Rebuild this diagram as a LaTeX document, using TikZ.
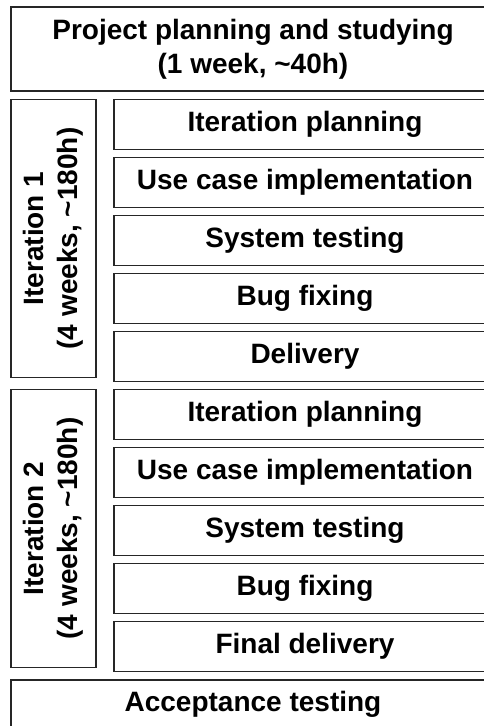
\documentclass[tikz,border=0pt]{standalone}
\usepackage{fontspec}
\setmainfont{Liberation Sans}

\tikzset{
	box/.style={draw=black!85, line width=1.2pt, inner sep=0pt, align=center,
		font=\bfseries\fontsize{28}{34}\selectfont},
	stage/.style={box, minimum width=484pt, minimum height=84pt},
	task/.style={box, minimum width=382pt, minimum height=50pt},
	iter/.style={box, rotate=90, minimum width=278pt, minimum height=85pt},
}

\begin{document}
\begin{tikzpicture}[x=1pt, y=-1pt]
			%%%%% START %%%%%
			
			\useasboundingbox (0, 0) rectangle (484, 726);
			\clip (0, 0) rectangle (484, 726);
			
			\node[stage] (plan) at (253, 49) {Project planning and studying\\(1 week, \textasciitilde40h)};
			
			% first iteration
			\node[iter] (iterA) at (53.5, 238.5) {Iteration 1\\(4 weeks, \textasciitilde180h)};
			\node[task] (planA) at (305, 124.5) {Iteration planning};
			\node[task] (implA) at (305, 182.5) {Use case implementation};
			\node[task] (testA) at (305, 240.5) {System testing};
			\node[task] (fixA) at (305, 298.5) {Bug fixing};
			\node[task] (delA) at (305, 356.5) {Delivery};
			
			% second iteration
			\node[iter] (iterB) at (53.5, 528.5) {Iteration 2\\(4 weeks, \textasciitilde180h)};
			\node[task] (planB) at (305, 414.5) {Iteration planning};
			\node[task] (implB) at (305, 472.5) {Use case implementation};
			\node[task] (testB) at (305, 530.5) {System testing};
			\node[task] (fixB) at (305, 588.5) {Bug fixing};
			\node[task] (delB) at (305, 646.5) {Final delivery};
			
			\node[stage, minimum height=48pt] (accept) at (253, 704) {Acceptance testing};
			
			%%%%% END %%%%%
\end{tikzpicture}
\end{document}
